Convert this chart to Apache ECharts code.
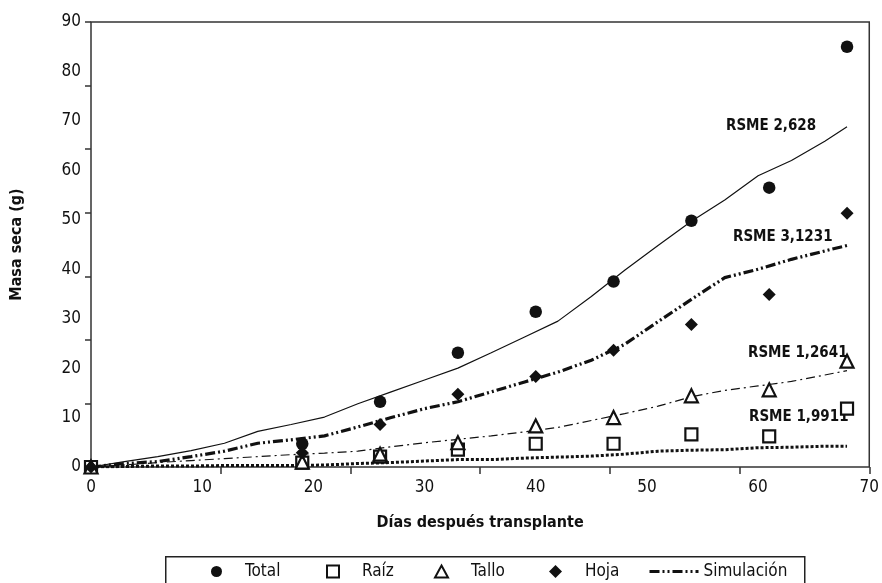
<!DOCTYPE html>
<html>
<head>
<meta charset="utf-8">
<script src="https://cdn.jsdelivr.net/npm/echarts@6/dist/echarts.min.js"></script>
<style>
  html, body { margin: 0; padding: 0; background: #fff; }
  #chart { width: 882px; height: 583px; }
</style>
</head>
<body>
<div id="chart"></div>
<script>
// Sampling days (días después del transplante)
const obsDays = [0, 19, 26, 33, 40, 47, 54, 61, 68];

// Observed dry mass (g)
const total = [0, 4.7, 13.2, 23.1, 31.4, 37.5, 49.8, 56.5, 85.0];
const raiz  = [0, 0.9, 2.1, 3.5, 4.7, 4.7, 6.6, 6.2, 11.8];
const tallo = [0, 1.0, 2.6, 4.9, 8.3, 10.0, 14.4, 15.6, 21.4];
const hoja  = [0, 2.9, 8.6, 14.7, 18.3, 23.6, 28.8, 34.9, 51.3];

// Simulated dry mass (g)
const simDays  = [0, 3, 6, 9, 12, 15, 18, 21, 24, 27, 30, 33, 36, 39, 42, 45, 48, 51, 54, 57, 60, 63, 66, 68];
const simTotal = [0, 1.1, 2.1, 3.3, 4.8, 7.2, 8.6, 10.1, 12.8, 15.2, 17.6, 20.0, 23.1, 26.3, 29.5, 34.5, 39.8, 44.8, 49.7, 54.0, 58.9, 62.0, 65.9, 68.8];
const simHoja  = [0, 0.7, 1.1, 2.1, 3.2, 4.8, 5.5, 6.3, 8.1, 10.0, 11.8, 13.2, 15.2, 17.2, 19.2, 21.6, 24.8, 29.4, 33.9, 38.3, 40.0, 42.0, 43.7, 44.8];
const simTallo = [0, 0.4, 0.9, 1.3, 1.7, 2.1, 2.5, 2.8, 3.2, 4.1, 4.9, 5.6, 6.3, 7.1, 8.0, 9.4, 10.8, 12.3, 14.2, 15.5, 16.4, 17.3, 18.6, 19.5];
const simRaiz  = [0, 0.1, 0.2, 0.2, 0.3, 0.3, 0.3, 0.4, 0.7, 0.9, 1.2, 1.5, 1.5, 1.8, 2.0, 2.2, 2.6, 3.2, 3.4, 3.5, 3.9, 4.0, 4.2, 4.2];

// Error labels
const rsmeLabels = ['RSME 2,628', 'RSME 3,1231', 'RSME 1,2641', 'RSME 1,9911'];

const FONT = '"DejaVu Sans Condensed", "Liberation Sans Narrow", sans-serif';
const INK = '#111';

const pairs = (xs, ys) => xs.map((x, i) => [x, ys[i]]);

const chart = echarts.init(document.getElementById('chart'), null, { renderer: 'canvas' });

const scatter = (name, data, symbol, size, filled) => ({
  name, type: 'scatter', data: pairs(obsDays, data),
  xAxisIndex: 0, yAxisIndex: 0,
  symbol, symbolSize: size, z: 5,
  itemStyle: filled
    ? { color: INK, opacity: 1 }
    : { color: '#fff', borderColor: INK, borderWidth: 2.2, opacity: 1 },
  emphasis: { disabled: true }
});

const sim = (data, width, type) => ({
  name: 'Simulación', type: 'line', data: pairs(simDays, data),
  xAxisIndex: 0, yAxisIndex: 0,
  showSymbol: false, symbol: 'none', smooth: false, z: 3,
  itemStyle: { color: INK },
  lineStyle: { color: INK, width, type },
  emphasis: { disabled: true }
});

// one legend block per entry so each sits at its own place in the key box
const legendItem = (name, center, extra) => Object.assign({
  data: [name], left: center - 6, top: 563, padding: 0,
  itemWidth: 12, itemHeight: 12,
  textStyle: { fontFamily: FONT, fontSize: 17, color: INK, padding: [0, 0, 0, 18] },
  selectedMode: false
}, extra || {});

chart.setOption({
  animation: false,
  backgroundColor: '#fff',
  grid: {
    left: 91, right: 1, top: 22, bottom: 116,
    show: true, borderColor: '#333', borderWidth: 1.5, backgroundColor: 'transparent'
  },
  xAxis: [
    {
      type: 'value', min: 0, max: 70, interval: 10,
      name: 'Días después transplante', nameLocation: 'middle', nameGap: 48,
      nameTextStyle: { fontFamily: FONT, fontSize: 16, fontWeight: 'bold', color: INK },
      axisLine: { show: false }, axisTick: { show: false }, splitLine: { show: false },
      axisLabel: { fontFamily: FONT, fontSize: 17, color: INK, margin: 12, showMaxLabel: true }
    },
    {
      // tick marks along the base of the plot
      type: 'value', min: 0, max: 6, interval: 1, position: 'bottom',
      axisLine: { show: false }, splitLine: { show: false }, axisLabel: { show: false },
      axisTick: { show: true, length: 7, lineStyle: { color: '#333', width: 1.5 } }
    }
  ],
  yAxis: [
    {
      type: 'value', min: 0, max: 90, interval: 10,
      name: 'Masa seca (g)', nameLocation: 'middle', nameGap: 66,
      nameTextStyle: { fontFamily: FONT, fontSize: 16, fontWeight: 'bold', color: INK },
      axisLine: { show: false }, axisTick: { show: false }, splitLine: { show: false },
      axisLabel: { fontFamily: FONT, fontSize: 17, color: INK, margin: 10 }
    },
    {
      // tick marks along the left side of the plot
      type: 'value', min: 0, max: 7, interval: 1, position: 'left',
      axisLine: { show: false }, splitLine: { show: false }, axisLabel: { show: false },
      axisTick: { show: true, length: 6, lineStyle: { color: '#333', width: 1.5 } }
    }
  ],
  legend: [
    legendItem('Total', 217, { itemWidth: 11, itemHeight: 11 }),
    legendItem('Raíz', 332),
    legendItem('Tallo', 440, { itemWidth: 13, itemHeight: 12 }),
    legendItem('Hoja', 555, { itemWidth: 13, itemHeight: 13 }),
    {
      data: ['Simulación'], left: 648, top: 563, padding: 0,
      itemWidth: 49, itemHeight: 12,
      itemStyle: { opacity: 0 },
      lineStyle: { width: 3, color: INK },
      textStyle: { fontFamily: FONT, fontSize: 17, color: INK },
      selectedMode: false
    }
  ],
  graphic: [
    { type: 'rect', left: 165, top: 556, shape: { width: 639, height: 40 },
      style: { fill: 'transparent', stroke: '#222', lineWidth: 1.5 }, silent: true },
    { type: 'text', left: 726, top: 119, style: { text: rsmeLabels[0], font: 'bold 15px ' + FONT, fill: INK } },
    { type: 'text', left: 733, top: 230, style: { text: rsmeLabels[1], font: 'bold 15px ' + FONT, fill: INK } },
    { type: 'text', left: 748, top: 346, style: { text: rsmeLabels[2], font: 'bold 15px ' + FONT, fill: INK } },
    { type: 'text', left: 749, top: 410, style: { text: rsmeLabels[3], font: 'bold 15px ' + FONT, fill: INK } }
  ],
  series: [
    sim(simHoja, 3.2, [10, 3, 2, 3, 2, 3]),
    sim(simTotal, 1.2, 'solid'),
    sim(simTallo, 1.2, [9, 4, 2, 4]),
    sim(simRaiz, 3, [3, 2]),
    scatter('Total', total, 'circle', 12.5, true),
    scatter('Raíz', raiz, 'rect', 12, false),
    scatter('Tallo', tallo, 'triangle', 13, false),
    scatter('Hoja', hoja, 'diamond', 13, true)
  ]
});
</script>
</body>
</html>
